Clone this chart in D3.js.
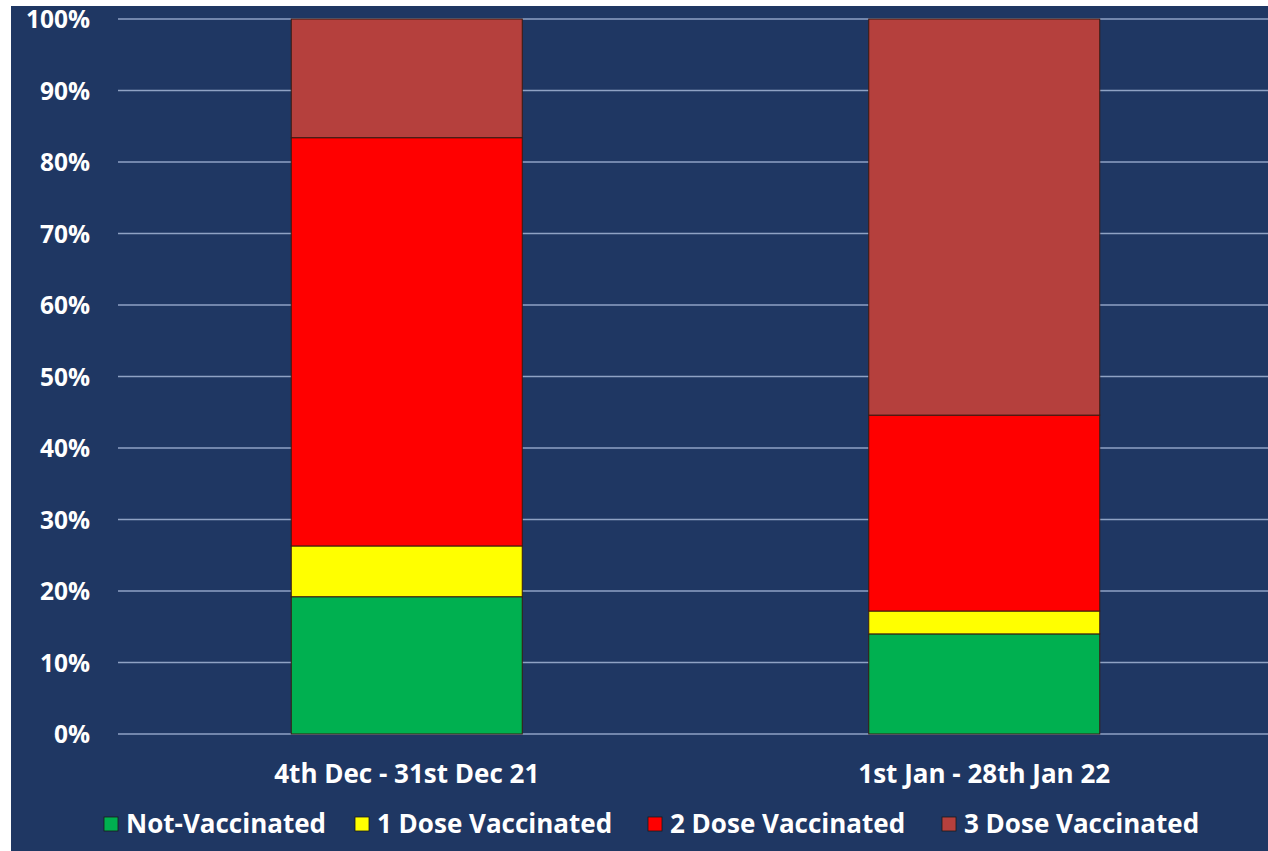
<!DOCTYPE html>
<html>
<head>
<meta charset="utf-8">
<script src="https://cdn.jsdelivr.net/npm/d3@7"></script>
<style>
  body { margin: 0; background: #fff; }
  svg { display: block; }
</style>
</head>
<body>
<svg></svg>
<script>
var width = 1268;
var height = 851;

// data (percent of each bar)
var periods = ["4th Dec - 31st Dec 21", "1st Jan - 28th Jan 22"];
var series = ["Not-Vaccinated", "1 Dose Vaccinated", "2 Dose Vaccinated", "3 Dose Vaccinated"];
var notVaccinated = [19.2, 14.0];
var oneDose = [7.1, 3.2];
var twoDose = [57.1, 27.4];
var threeDose = [16.6, 55.4];
var colors = ["#00b050", "#ffff00", "#ff0000", "#b5403d"];
var yTicks = [0, 10, 20, 30, 40, 50, 60, 70, 80, 90, 100];

var svg = d3.select("svg")
  .attr("width", width)
  .attr("height", height)
  .style("font-family", "'Open Sans', sans-serif");

// navy background panel
svg.append("rect")
  .attr("x", 11).attr("y", 6)
  .attr("width", width - 11).attr("height", height - 6)
  .attr("fill", "#1f3763");

var x = d3.scaleBand()
  .domain(periods)
  .range([118, 1273])
  .paddingInner(0.6)
  .paddingOuter(0.3);

var y = d3.scaleLinear()
  .domain([0, 100])
  .range([734, 19]);

// gridlines
svg.append("g")
  .selectAll("line")
  .data(yTicks)
  .enter().append("line")
    .attr("x1", 118).attr("x2", width)
    .attr("y1", function(d) { return y(d); })
    .attr("y2", function(d) { return y(d); })
    .attr("stroke", "#8fa2c4")
    .attr("stroke-width", 1.5);

// y axis labels
var yAxis = d3.axisLeft(y)
  .tickValues(yTicks)
  .tickFormat(function(d) { return d + "%"; })
  .tickSize(0)
  .tickPadding(0);

svg.append("g")
  .attr("transform", "translate(90,0)")
  .call(yAxis)
  .call(function(g) { g.select(".domain").remove(); })
  .selectAll("text")
    .attr("fill", "#ffffff")
    .attr("font-family", "'Open Sans', sans-serif")
    .attr("font-weight", "bold")
    .attr("font-size", "24.5px")
    .attr("dy", "0.36em");

// stack the series
var rows = periods.map(function(p, i) {
  return {
    period: p,
    "Not-Vaccinated": notVaccinated[i],
    "1 Dose Vaccinated": oneDose[i],
    "2 Dose Vaccinated": twoDose[i],
    "3 Dose Vaccinated": threeDose[i]
  };
});

var stack = d3.stack().keys(series);
var color = d3.scaleOrdinal().domain(series).range(colors);

svg.append("g")
  .selectAll("g")
  .data(stack(rows))
  .enter().append("g")
    .attr("fill", function(d) { return color(d.key); })
  .selectAll("rect")
  .data(function(d) { return d; })
  .enter().append("rect")
    .attr("x", function(d) { return x(d.data.period); })
    .attr("y", function(d) { return y(d[1]); })
    .attr("width", x.bandwidth())
    .attr("height", function(d) { return y(d[0]) - y(d[1]); })
    .attr("stroke", "#3a1a10")
    .attr("stroke-width", 1);

// x axis labels
var xAxis = d3.axisBottom(x).tickSize(0).tickPadding(0);
svg.append("g")
  .attr("transform", "translate(0,774)")
  .call(xAxis)
  .call(function(g) { g.select(".domain").remove(); })
  .selectAll("text")
    .attr("fill", "#ffffff")
    .attr("font-family", "'Open Sans', sans-serif")
    .attr("font-weight", "bold")
    .attr("font-size", "26px")
    .attr("dy", "0.36em")
    .attr("y", 0);

// legend
var legendX = [104, 355, 648, 942];
var legend = svg.append("g")
  .selectAll("g")
  .data(series)
  .enter().append("g")
    .attr("transform", function(d, i) { return "translate(" + legendX[i] + ",824)"; });

legend.append("rect")
  .attr("x", 0).attr("y", -7)
  .attr("width", 14).attr("height", 14)
  .attr("fill", function(d) { return color(d); })
  .attr("stroke", "#1a1a1a")
  .attr("stroke-width", 0.8);

legend.append("text")
  .attr("x", 22)
  .attr("dy", "0.36em")
  .attr("fill", "#ffffff")
  .attr("font-weight", "bold")
  .attr("font-size", "26px")
  .text(function(d) { return d; });
</script>
</body>
</html>
